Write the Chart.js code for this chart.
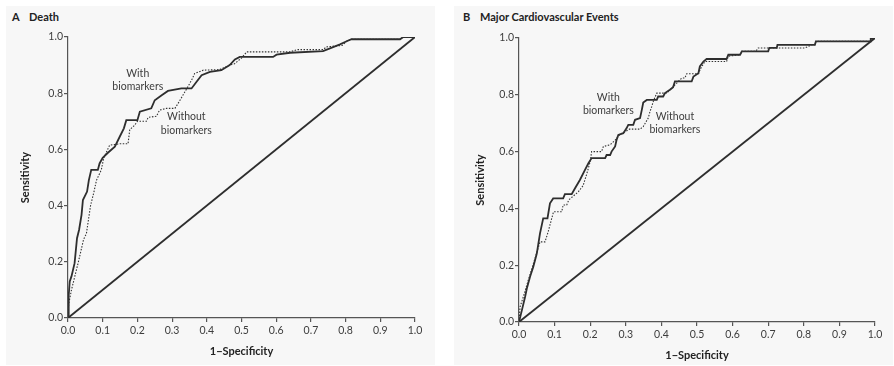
<!DOCTYPE html>
<html>
<head>
<meta charset="utf-8">
<title>ROC curves</title>
<script src="https://cdn.jsdelivr.net/npm/chart.js@4.4.1/dist/chart.umd.min.js"></script>
<style>
  body { margin: 0; background: #fff; width: 894px; height: 366px; position: relative; overflow: hidden; font-family: Lato, "Open Sans", sans-serif; }
  .panel { position: absolute; top: 6px; height: 359px; background: #f7f7f7; }
  #panelA { left: 6px; width: 429px; }
  #panelB { left: 454px; width: 439px; }
  .panel canvas { position: absolute; left: 0; top: 0; }
  .head { position: absolute; top: 4px; font-weight: bold; font-size: 11px; color: #222; white-space: nowrap; }
  .head span { display: inline-block; width: 17px; }
</style>
</head>
<body>
<div class="panel" id="panelA">
  <div class="head" style="left:6px"><span>A</span>Death</div>
  <canvas id="chartA" width="429" height="359"></canvas>
</div>
<div class="panel" id="panelB">
  <div class="head" style="left:9px"><span>B</span>Major Cardiovascular Events</div>
  <canvas id="chartB" width="439" height="359"></canvas>
</div>
<script>
// tick labels
const xTickLabels = ["0.0", "0.1", "0.2", "0.3", "0.4", "0.5", "0.6", "0.7", "0.8", "0.9", "1.0"];
const yTickLabels = ["0.0", "0.2", "0.4", "0.6", "0.8", "1.0"];

// chance line
const chanceX = [0, 1];
const chanceY = [0, 1];

// A: death, 1-specificity / sensitivity
const deathWithX = [0, 0.002, 0.005, 0.01, 0.019, 0.026, 0.032, 0.039, 0.043, 0.055, 0.06, 0.067, 0.086, 0.091, 0.1, 0.115, 0.135, 0.149, 0.161, 0.168, 0.2, 0.207, 0.24, 0.25, 0.27, 0.288, 0.327, 0.356, 0.37, 0.385, 0.409, 0.442, 0.466, 0.481, 0.495, 0.591, 0.601, 0.64, 0.735, 0.764, 0.784, 0.803, 0.817, 0.957, 0.966, 1.0];
const deathWithY = [0, 0.08, 0.13, 0.148, 0.195, 0.284, 0.314, 0.367, 0.42, 0.45, 0.49, 0.527, 0.527, 0.55, 0.57, 0.588, 0.61, 0.645, 0.675, 0.704, 0.704, 0.734, 0.746, 0.775, 0.793, 0.808, 0.817, 0.817, 0.84, 0.864, 0.876, 0.882, 0.9, 0.92, 0.929, 0.929, 0.937, 0.944, 0.95, 0.964, 0.974, 0.985, 0.992, 0.992, 1.0, 1.0];
const deathWithoutX = [0, 0.002, 0.01, 0.02, 0.03, 0.045, 0.053, 0.065, 0.075, 0.082, 0.096, 0.103, 0.12, 0.15, 0.173, 0.178, 0.192, 0.2, 0.226, 0.231, 0.255, 0.264, 0.284, 0.308, 0.317, 0.337, 0.356, 0.365, 0.39, 0.437, 0.466, 0.48, 0.5, 0.515, 0.64, 0.66, 0.735, 0.745, 0.79, 0.803, 0.817, 0.957, 0.966, 1.0];
const deathWithoutY = [0, 0.05, 0.1, 0.15, 0.2, 0.28, 0.3, 0.4, 0.45, 0.49, 0.527, 0.57, 0.615, 0.62, 0.62, 0.67, 0.686, 0.7, 0.7, 0.714, 0.718, 0.74, 0.746, 0.746, 0.763, 0.805, 0.846, 0.87, 0.882, 0.884, 0.9, 0.905, 0.925, 0.947, 0.947, 0.955, 0.955, 0.965, 0.97, 0.985, 0.992, 0.992, 1.0, 1.0];

// B: major cardiovascular events
const maceWithX = [0, 0.008, 0.017, 0.022, 0.031, 0.04, 0.05, 0.059, 0.068, 0.08, 0.087, 0.096, 0.124, 0.129, 0.148, 0.157, 0.171, 0.185, 0.195, 0.204, 0.242, 0.246, 0.256, 0.26, 0.27, 0.274, 0.279, 0.293, 0.302, 0.307, 0.321, 0.326, 0.34, 0.345, 0.349, 0.359, 0.387, 0.391, 0.405, 0.41, 0.424, 0.433, 0.438, 0.485, 0.49, 0.504, 0.508, 0.518, 0.527, 0.583, 0.588, 0.621, 0.626, 0.7, 0.703, 0.724, 0.726, 0.831, 0.834, 0.986, 0.988, 1.0];
const maceWithY = [0, 0.041, 0.088, 0.118, 0.159, 0.194, 0.241, 0.312, 0.365, 0.365, 0.418, 0.435, 0.435, 0.45, 0.45, 0.47, 0.5, 0.535, 0.559, 0.577, 0.577, 0.588, 0.588, 0.6, 0.618, 0.641, 0.659, 0.665, 0.682, 0.694, 0.694, 0.712, 0.718, 0.747, 0.773, 0.782, 0.782, 0.794, 0.794, 0.806, 0.818, 0.827, 0.847, 0.847, 0.864, 0.876, 0.9, 0.917, 0.926, 0.926, 0.941, 0.941, 0.953, 0.953, 0.965, 0.965, 0.976, 0.976, 0.988, 0.988, 0.997, 1.0];
const maceWithoutX = [0, 0.003, 0.012, 0.026, 0.045, 0.059, 0.073, 0.082, 0.092, 0.097, 0.12, 0.124, 0.134, 0.14, 0.167, 0.18, 0.19, 0.2, 0.204, 0.232, 0.237, 0.256, 0.27, 0.283, 0.298, 0.31, 0.34, 0.349, 0.363, 0.368, 0.373, 0.377, 0.387, 0.415, 0.443, 0.457, 0.466, 0.471, 0.504, 0.51, 0.522, 0.583, 0.588, 0.621, 0.626, 0.665, 0.672, 0.803, 0.822, 0.831, 0.834, 0.986, 0.988, 1.0];
const maceWithoutY = [0, 0.053, 0.088, 0.147, 0.224, 0.282, 0.282, 0.318, 0.365, 0.388, 0.388, 0.412, 0.412, 0.43, 0.459, 0.48, 0.52, 0.565, 0.6, 0.6, 0.618, 0.624, 0.64, 0.66, 0.67, 0.679, 0.679, 0.688, 0.718, 0.741, 0.759, 0.776, 0.806, 0.806, 0.841, 0.859, 0.859, 0.874, 0.874, 0.892, 0.917, 0.917, 0.936, 0.941, 0.953, 0.953, 0.965, 0.965, 0.976, 0.976, 0.988, 0.988, 0.997, 1.0];

const INK = "#2e2e2e";
const AXIS = "#555";
const TEXT = "#3d3d3d";

function toPoints(xs, ys) {
  return xs.map((x, i) => ({ x: x, y: ys[i] }));
}

// curve captions placed in data units (centre x, first line y)
const curveNotes = {
  id: "curveNotes",
  afterDatasetsDraw(chart, args, opts) {
    const { ctx, scales } = chart;
    ctx.save();
    ctx.font = "10.5px Lato";
    ctx.fillStyle = TEXT;
    ctx.textAlign = "center";
    ctx.textBaseline = "middle";
    opts.notes.forEach(n => {
      const px = scales.x.getPixelForValue(n.x);
      const py = scales.y.getPixelForValue(n.y);
      n.lines.forEach((t, i) => ctx.fillText(t, px, py + i * 13.2));
    });
    ctx.restore();
  }
};

function makeRoc(id, withPts, withoutPts, notes, box) {
  return new Chart(document.getElementById(id), {
    type: "scatter",
    data: {
      datasets: [
        { data: toPoints(chanceX, chanceY), showLine: true, borderColor: INK, borderWidth: 1.8 },
        { data: withoutPts, showLine: true, borderColor: "#333", borderWidth: 1.1, borderDash: [1.5, 1.5] },
        { data: withPts, showLine: true, borderColor: INK, borderWidth: 1.8 }
      ]
    },
    options: {
      responsive: false,
      animation: false,
      layout: { padding: { left: 0, top: box.top, right: box.right, bottom: 0 } },
      elements: { point: { radius: 0, hoverRadius: 0 }, line: { tension: 0 } },
      plugins: {
        legend: { display: false },
        tooltip: { enabled: false },
        curveNotes: { notes: notes }
      },
      scales: {
        x: {
          type: "linear", min: 0, max: 1,
          afterFit(s) { s.height = box.bottom; },
          border: { color: AXIS, width: 1.2 },
          grid: { drawOnChartArea: false, drawTicks: true, tickLength: 4, color: AXIS, lineWidth: 1.2 },
          ticks: { stepSize: 0.1, padding: 2, color: TEXT, font: { family: "Lato", size: 10.5 }, maxRotation: 0,
                   callback: (v, i) => xTickLabels[i] },
          title: { display: true, text: "1\u2212Specificity", color: "#222",
                   font: { family: "Lato", size: 11, weight: "bold" }, padding: { top: 0, bottom: box.xTitle } }
        },
        y: {
          type: "linear", min: 0, max: 1,
          afterFit(s) { s.width = box.left; },
          border: { color: AXIS, width: 1.2 },
          grid: { drawOnChartArea: false, drawTicks: true, tickLength: 4, color: AXIS, lineWidth: 1.2 },
          ticks: { stepSize: 0.2, padding: 1, color: TEXT, font: { family: "Lato", size: 10.5 },
                   callback: (v, i) => yTickLabels[i] },
          title: { display: true, text: "Sensitivity", color: "#222",
                   font: { family: "Lato", size: 11, weight: "bold" }, padding: { top: box.yTitle, bottom: 0 } }
        }
      }
    },
    plugins: [curveNotes]
  });
}

makeRoc("chartA",
  toPoints(deathWithX, deathWithY),
  toPoints(deathWithoutX, deathWithoutY),
  [
    { x: 0.201, y: 0.871, lines: ["With", "biomarkers"] },
    { x: 0.341, y: 0.715, lines: ["Without", "biomarkers"] }
  ],
  { left: 62, top: 31, right: 20, bottom: 47, xTitle: 6.7, yTitle: 12.4 });

makeRoc("chartB",
  toPoints(maceWithX, maceWithY),
  toPoints(maceWithoutX, maceWithoutY),
  [
    { x: 0.251, y: 0.79, lines: ["With", "biomarkers"] },
    { x: 0.438, y: 0.723, lines: ["Without", "biomarkers"] }
  ],
  { left: 65, top: 32, right: 18, bottom: 43, xTitle: 3.4, yTitle: 19.4 });
</script>
</body>
</html>
